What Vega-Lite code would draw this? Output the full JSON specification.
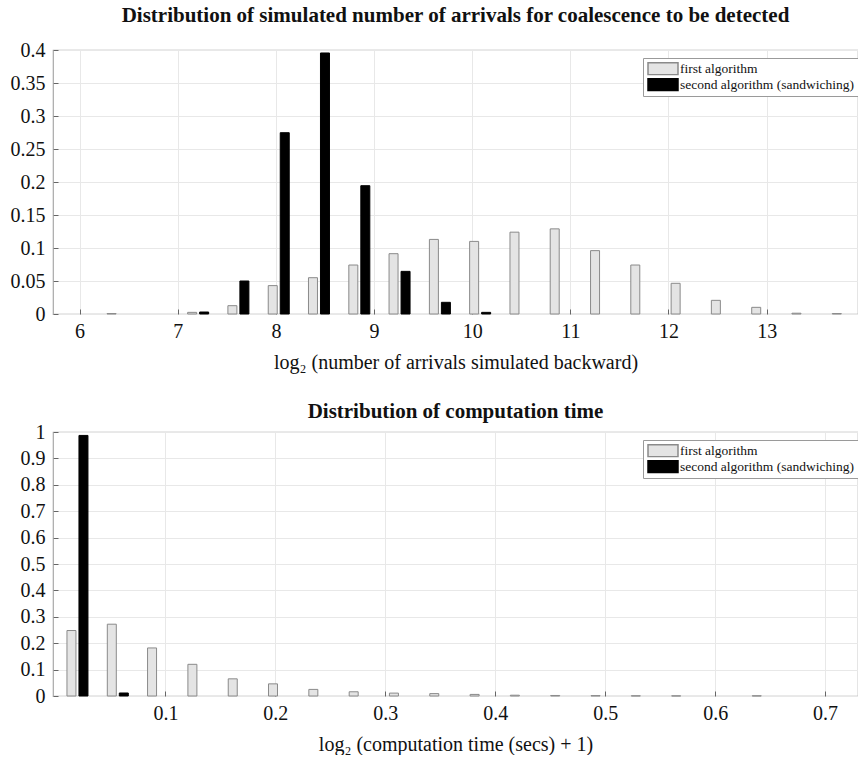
{
  "$schema": "https://vega.github.io/schema/vega-lite/v6.json",
  "background": "white",
  "padding": {"left": 9, "top": 4, "right": 1, "bottom": 0},
  "datasets": {
    "arrivals": [
      {"x": 6.387, "p": 0.0007, "series": "first algorithm"},
      {"x": 7.208, "p": 0.0025, "series": "first algorithm"},
      {"x": 7.618, "p": 0.0126, "series": "first algorithm"},
      {"x": 8.029, "p": 0.043, "series": "first algorithm"},
      {"x": 8.439, "p": 0.055, "series": "first algorithm"},
      {"x": 8.850, "p": 0.0742, "series": "first algorithm"},
      {"x": 9.260, "p": 0.0914, "series": "first algorithm"},
      {"x": 9.671, "p": 0.113, "series": "first algorithm"},
      {"x": 10.081, "p": 0.110, "series": "first algorithm"},
      {"x": 10.492, "p": 0.124, "series": "first algorithm"},
      {"x": 10.902, "p": 0.129, "series": "first algorithm"},
      {"x": 11.313, "p": 0.096, "series": "first algorithm"},
      {"x": 11.723, "p": 0.0742, "series": "first algorithm"},
      {"x": 12.134, "p": 0.0465, "series": "first algorithm"},
      {"x": 12.544, "p": 0.0207, "series": "first algorithm"},
      {"x": 12.955, "p": 0.0101, "series": "first algorithm"},
      {"x": 13.365, "p": 0.0012, "series": "first algorithm"},
      {"x": 13.776, "p": 0.0007, "series": "first algorithm"},
      {"x": 7.208, "p": 0.003, "series": "second algorithm (sandwiching)"},
      {"x": 7.618, "p": 0.050, "series": "second algorithm (sandwiching)"},
      {"x": 8.029, "p": 0.2747, "series": "second algorithm (sandwiching)"},
      {"x": 8.439, "p": 0.3955, "series": "second algorithm (sandwiching)"},
      {"x": 8.850, "p": 0.1944, "series": "second algorithm (sandwiching)"},
      {"x": 9.260, "p": 0.0646, "series": "second algorithm (sandwiching)"},
      {"x": 9.671, "p": 0.0177, "series": "second algorithm (sandwiching)"},
      {"x": 10.081, "p": 0.0025, "series": "second algorithm (sandwiching)"}
    ],
    "comptime": [
      {"x": 0.0200, "p": 0.248, "series": "first algorithm"},
      {"x": 0.0567, "p": 0.272, "series": "first algorithm"},
      {"x": 0.0933, "p": 0.182, "series": "first algorithm"},
      {"x": 0.1300, "p": 0.120, "series": "first algorithm"},
      {"x": 0.1667, "p": 0.065, "series": "first algorithm"},
      {"x": 0.2033, "p": 0.046, "series": "first algorithm"},
      {"x": 0.2400, "p": 0.025, "series": "first algorithm"},
      {"x": 0.2767, "p": 0.016, "series": "first algorithm"},
      {"x": 0.3133, "p": 0.011, "series": "first algorithm"},
      {"x": 0.3500, "p": 0.009, "series": "first algorithm"},
      {"x": 0.3867, "p": 0.006, "series": "first algorithm"},
      {"x": 0.4233, "p": 0.003, "series": "first algorithm"},
      {"x": 0.4600, "p": 0.002, "series": "first algorithm"},
      {"x": 0.4967, "p": 0.0015, "series": "first algorithm"},
      {"x": 0.5333, "p": 0.0008, "series": "first algorithm"},
      {"x": 0.5700, "p": 0.0005, "series": "first algorithm"},
      {"x": 0.6433, "p": 0.0008, "series": "first algorithm"},
      {"x": 0.0200, "p": 0.987, "series": "second algorithm (sandwiching)"},
      {"x": 0.0567, "p": 0.0114, "series": "second algorithm (sandwiching)"}
    ]
  },
  "vconcat": [
    {
      "width": 805,
      "height": 264,
      "title": {"text": "Distribution of simulated number of arrivals for coalescence to be detected", "offset": -3, "baseline": "alphabetic"},
      "data": {"name": "arrivals"},
      "encoding": {
        "x": {"field": "x", "type": "quantitative", "scale": {"domain": [5.78, 13.88], "nice": false, "zero": false},
              "axis": {"values": [6, 7, 8, 9, 10, 11, 12, 13], "title": "log₂ (number of arrivals simulated backward)"}},
        "y": {"field": "p", "type": "quantitative", "scale": {"domain": [0, 0.4], "nice": false},
              "axis": {"values": [0, 0.05, 0.1, 0.15, 0.2, 0.25, 0.3, 0.35, 0.4], "format": "~g", "title": null}},
        "fill": {"field": "series", "type": "nominal",
                 "scale": {"domain": ["first algorithm", "second algorithm (sandwiching)"], "range": ["#e4e4e4", "#000000"]},
                 "legend": {"orient": "none", "legendX": 590, "legendY": 8}},
        "stroke": {"field": "series", "type": "nominal",
                   "scale": {"domain": ["first algorithm", "second algorithm (sandwiching)"], "range": ["#8a8a8a", "#000000"]},
                   "legend": {"orient": "none", "legendX": 590, "legendY": 8}}
      },
      "layer": [
        {"transform": [{"filter": "datum.series === 'first algorithm'"}],
         "mark": {"type": "bar", "orient": "vertical", "width": 9, "xOffset": -6, "strokeWidth": 1}},
        {"transform": [{"filter": "datum.series === 'second algorithm (sandwiching)'"}],
         "mark": {"type": "bar", "orient": "vertical", "width": 9, "xOffset": 6, "strokeWidth": 1}}
      ]
    },
    {
      "width": 805,
      "height": 264,
      "title": {"text": "Distribution of computation time", "offset": -17, "baseline": "alphabetic"},
      "data": {"name": "comptime"},
      "encoding": {
        "x": {"field": "x", "type": "quantitative", "scale": {"domain": [0.0023, 0.7254], "nice": false, "zero": false},
              "axis": {"values": [0.1, 0.2, 0.3, 0.4, 0.5, 0.6, 0.7], "format": "~g", "title": "log₂ (computation time (secs) + 1)"}},
        "y": {"field": "p", "type": "quantitative", "scale": {"domain": [0, 1], "nice": false},
              "axis": {"values": [0, 0.1, 0.2, 0.3, 0.4, 0.5, 0.6, 0.7, 0.8, 0.9, 1], "format": "~g", "title": null}},
        "fill": {"field": "series", "type": "nominal",
                 "scale": {"domain": ["first algorithm", "second algorithm (sandwiching)"], "range": ["#e4e4e4", "#000000"]},
                 "legend": {"orient": "none", "legendX": 590, "legendY": 8}},
        "stroke": {"field": "series", "type": "nominal",
                   "scale": {"domain": ["first algorithm", "second algorithm (sandwiching)"], "range": ["#8a8a8a", "#000000"]},
                   "legend": {"orient": "none", "legendX": 590, "legendY": 8}}
      },
      "layer": [
        {"transform": [{"filter": "datum.series === 'first algorithm'"}],
         "mark": {"type": "bar", "orient": "vertical", "width": 9, "xOffset": -6, "strokeWidth": 1}},
        {"transform": [{"filter": "datum.series === 'second algorithm (sandwiching)'"}],
         "mark": {"type": "bar", "orient": "vertical", "width": 9, "xOffset": 6, "strokeWidth": 1}}
      ]
    }
  ],
  "spacing": 27,
  "resolve": {
    "scale": {"fill": "independent", "stroke": "independent"},
    "legend": {"fill": "independent", "stroke": "independent"}
  },
  "config": {
    "font": "Liberation Serif",
    "view": {"stroke": "#a8a8a8", "strokeWidth": 1.2},
    "axis": {
      "labelFont": "Liberation Serif", "labelFontSize": 20, "labelColor": "#111",
      "titleFont": "Liberation Serif", "titleFontSize": 20, "titleFontWeight": "normal", "titleColor": "#111",
      "gridColor": "#e8e8e8", "gridWidth": 1, "domain": false,
      "ticks": true, "tickSize": -5, "tickColor": "#666", "tickWidth": 1,
      "labelPadding": 13
    },
    "axisX": {"labelPadding": 12, "titlePadding": 11},
    "title": {"font": "Liberation Serif", "fontSize": 21, "fontWeight": "bold", "color": "#111", "anchor": "middle"},
    "legend": {
      "title": null,
      "labelFont": "Liberation Serif", "labelFontSize": 13.5, "labelColor": "#111", "labelLimit": 400,
      "symbolType": "M-2.5,-1H2.5V1H-2.5Z", "symbolSize": 144, "symbolStrokeWidth": 1.5,
      "symbolOffset": 9, "labelOffset": 10, "padding": 4, "rowPadding": 1, "clipHeight": 13.5,
      "strokeColor": "#9a9a9a", "fillColor": "white", "cornerRadius": 0, "symbolOpacity": 1
    }
  }
}
